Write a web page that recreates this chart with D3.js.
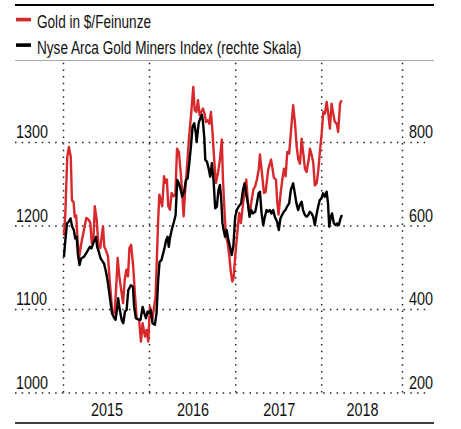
<!DOCTYPE html>
<html><head><meta charset="utf-8">
<script src="https://cdn.jsdelivr.net/npm/d3@7"></script>
<style>
body{margin:0;background:#fff}
svg text{font-family:"Liberation Sans",Arial,sans-serif;fill:#111}
</style>
</head><body><svg id="c" width="461" height="429"></svg>
<script>
const goldDates = ["2015-01-05","2015-01-11","2015-01-19","2015-01-26","2015-02-03","2015-02-08","2015-02-15","2015-02-20","2015-02-26","2015-03-03","2015-03-10","2015-03-20","2015-03-31","2015-04-10","2015-04-20","2015-04-27","2015-05-03","2015-05-10","2015-05-16","2015-05-24","2015-05-31","2015-06-08","2015-06-14","2015-06-20","2015-06-25","2015-07-04","2015-07-11","2015-07-18","2015-07-25","2015-07-29","2015-08-08","2015-08-15","2015-08-21","2015-08-28","2015-09-05","2015-09-13","2015-09-20","2015-09-27","2015-10-04","2015-10-10","2015-10-17","2015-10-26","2015-11-03","2015-11-10","2015-11-20","2015-11-28","2015-12-05","2015-12-15","2015-12-22","2015-12-29","2016-01-05","2016-01-15","2016-01-29","2016-02-09","2016-02-14","2016-02-21","2016-02-26","2016-03-05","2016-03-12","2016-03-17","2016-03-23","2016-03-30","2016-04-06","2016-04-15","2016-04-22","2016-04-29","2016-05-07","2016-05-16","2016-05-21","2016-05-27","2016-06-03","2016-06-12","2016-06-19","2016-06-27","2016-07-07","2016-07-13","2016-07-20","2016-07-27","2016-08-03","2016-08-10","2016-08-17","2016-08-24","2016-08-30","2016-09-06","2016-09-13","2016-09-20","2016-09-27","2016-10-03","2016-10-11","2016-10-20","2016-10-28","2016-11-05","2016-11-10","2016-11-17","2016-11-23","2016-11-30","2016-12-07","2016-12-14","2016-12-20","2016-12-25","2017-01-01","2017-01-10","2017-01-18","2017-01-25","2017-02-02","2017-02-10","2017-02-17","2017-02-24","2017-03-03","2017-03-10","2017-03-19","2017-03-27","2017-04-03","2017-04-11","2017-04-16","2017-04-23","2017-05-03","2017-05-10","2017-05-21","2017-06-02","2017-06-09","2017-06-14","2017-06-23","2017-06-28","2017-07-04","2017-07-13","2017-07-20","2017-07-27","2017-08-03","2017-08-10","2017-08-18","2017-08-26","2017-09-04","2017-09-12","2017-09-19","2017-09-26","2017-10-03","2017-10-10","2017-10-17","2017-10-24","2017-10-31","2017-11-09","2017-11-14","2017-11-21","2017-11-28","2017-12-05","2017-12-13","2017-12-20","2017-12-27","2018-01-03","2018-01-10","2018-01-17","2018-01-24","2018-01-31","2018-02-07","2018-02-14","2018-02-21","2018-02-28","2018-03-08","2018-03-14","2018-03-22","2018-03-29"];
const goldValues = [1188,1215,1282,1294,1282,1230,1228,1210,1212,1187,1161,1179,1195,1209,1207,1203,1179,1183,1223,1207,1177,1173,1187,1199,1175,1169,1163,1135,1111,1097,1095,1127,1161,1139,1123,1107,1135,1147,1139,1173,1177,1151,1115,1089,1087,1061,1083,1067,1075,1061,1103,1087,1115,1207,1237,1229,1223,1259,1251,1255,1223,1219,1239,1235,1237,1292,1288,1259,1239,1211,1243,1276,1306,1330,1366,1338,1336,1350,1332,1336,1340,1334,1324,1326,1322,1336,1310,1282,1251,1263,1279,1303,1255,1215,1187,1179,1163,1143,1133,1137,1163,1191,1215,1203,1223,1243,1255,1227,1211,1227,1243,1247,1255,1267,1285,1267,1239,1240,1267,1279,1267,1257,1255,1230,1213,1239,1255,1268,1259,1288,1286,1314,1344,1322,1294,1279,1274,1304,1286,1268,1264,1279,1292,1285,1276,1248,1251,1267,1290,1310,1336,1334,1348,1334,1316,1346,1334,1324,1322,1312,1346,1350];
const minersDates = ["2015-01-05","2015-01-11","2015-01-18","2015-01-25","2015-02-02","2015-02-09","2015-02-16","2015-02-22","2015-02-28","2015-03-05","2015-03-12","2015-03-19","2015-03-31","2015-04-09","2015-04-17","2015-04-25","2015-05-02","2015-05-09","2015-05-15","2015-05-21","2015-05-26","2015-06-02","2015-06-10","2015-06-16","2015-06-24","2015-07-01","2015-07-08","2015-07-15","2015-07-22","2015-07-28","2015-08-05","2015-08-12","2015-08-18","2015-08-23","2015-08-30","2015-09-07","2015-09-14","2015-09-21","2015-09-28","2015-10-05","2015-10-16","2015-10-25","2015-10-30","2015-11-06","2015-11-16","2015-11-26","2015-12-05","2015-12-12","2015-12-19","2015-12-26","2016-01-02","2016-01-09","2016-01-16","2016-01-26","2016-02-02","2016-02-09","2016-02-15","2016-02-23","2016-03-01","2016-03-08","2016-03-14","2016-03-20","2016-03-25","2016-03-31","2016-04-08","2016-04-16","2016-04-23","2016-04-30","2016-05-07","2016-05-15","2016-05-21","2016-05-29","2016-06-06","2016-06-13","2016-06-20","2016-06-27","2016-07-04","2016-07-11","2016-07-18","2016-07-21","2016-07-30","2016-08-06","2016-08-13","2016-08-17","2016-08-23","2016-08-27","2016-09-03","2016-09-10","2016-09-17","2016-09-24","2016-10-01","2016-10-08","2016-10-15","2016-10-22","2016-10-28","2016-11-02","2016-11-08","2016-11-13","2016-11-19","2016-11-26","2016-12-03","2016-12-10","2016-12-17","2016-12-24","2017-01-01","2017-01-08","2017-01-15","2017-01-26","2017-02-03","2017-02-10","2017-02-16","2017-02-24","2017-03-03","2017-03-10","2017-03-17","2017-03-27","2017-04-03","2017-04-10","2017-04-16","2017-04-23","2017-04-30","2017-05-07","2017-05-14","2017-05-21","2017-05-28","2017-06-04","2017-06-11","2017-06-18","2017-06-28","2017-07-05","2017-07-12","2017-07-19","2017-07-26","2017-08-02","2017-08-09","2017-08-18","2017-08-25","2017-09-04","2017-09-11","2017-09-18","2017-09-25","2017-10-02","2017-10-10","2017-10-16","2017-10-24","2017-10-31","2017-11-07","2017-11-14","2017-11-21","2017-11-28","2017-12-05","2017-12-12","2017-12-19","2017-12-26","2018-01-02","2018-01-09","2018-01-16","2018-01-24","2018-01-30","2018-02-04","2018-02-11","2018-02-16","2018-02-24","2018-03-03","2018-03-10","2018-03-17","2018-03-24","2018-03-30"];
const minersValues = [525,565,605,609,617,597,589,569,573,533,505,521,525,533,541,549,545,557,565,573,549,537,521,516,509,493,473,445,414,390,380,374,398,426,398,374,366,394,398,445,457,453,405,378,375,374,405,390,378,394,390,398,366,362,390,469,513,517,533,549,565,573,549,573,593,609,625,709,701,685,669,681,709,713,749,789,837,845,821,800,845,857,865,849,809,757,753,737,717,749,709,641,645,685,697,669,605,589,573,589,565,549,529,549,621,637,645,653,685,701,677,653,621,637,629,633,653,677,681,629,601,621,637,633,637,629,637,621,609,589,617,625,633,637,645,653,685,701,677,653,637,649,657,637,625,621,625,633,629,621,601,625,645,661,665,677,669,681,653,597,621,629,605,601,605,601,617,625];
const leftTicks = [1000, 1100, 1200, 1300];
const rightTicks = [200, 400, 600, 800];
const yearLabels = ["2015", "2016", "2017", "2018"];
const legendLabels = ["Gold in $/Feinunze", "Nyse Arca Gold Miners Index (rechte Skala)"];
const seriesColors = ["#d7282c", "#000000"];

const parse = d3.timeParse("%Y-%m-%d");
const svg = d3.select("#c");

const x = d3.scaleTime().domain([parse("2015-01-01"), parse("2018-12-10")]).range([63, 402]);
const yL = d3.scaleLinear().domain([1000, 1400]).range([392.5, 58.5]);
const yR = d3.scaleLinear().domain([200, 1000]).range([392.5, 58.5]);

// frame lines
svg.append("line").attr("x1", 15).attr("x2", 434).attr("y1", 5).attr("y2", 5).attr("stroke", "#000").attr("stroke-width", 2.2);
svg.append("line").attr("x1", 15).attr("x2", 434).attr("y1", 60.5).attr("y2", 60.5).attr("stroke", "#aaa").attr("stroke-width", 1);
svg.append("line").attr("x1", 15).attr("x2", 434).attr("y1", 423).attr("y2", 423).attr("stroke", "#000").attr("stroke-width", 1.5);

// legend (condensed by horizontal scaling)
legendLabels.forEach((t, i) => {
  const yy = 19.5 + i * 25.5;
  svg.append("rect").attr("x", 16).attr("y", yy - 1.7).attr("width", 15).attr("height", 3.6).attr("fill", seriesColors[i]);
  svg.append("text").attr("transform", `translate(37,${yy + 8.5}) scale(0.735,1)`).attr("font-size", 18.5).text(t);
});

// horizontal grid + left labels
const gL = svg.append("g").attr("transform", "translate(15,0)")
  .call(d3.axisRight(yL).tickValues(leftTicks).tickSize(415).tickFormat(d3.format("d")));
gL.select(".domain").remove();
gL.selectAll(".tick line").attr("stroke", "#222").attr("stroke-width", 1.5).attr("stroke-dasharray", "1.5,5.2");
gL.selectAll(".tick text").attr("x", 0).attr("dy", 0).attr("y", -4.5).attr("transform", "translate(1,0) scale(0.8,1)")
  .attr("text-anchor", "start").attr("font-size", 18).attr("fill", "#111").style("font-family", "'Liberation Sans',Arial,sans-serif");

// right labels
const gR = svg.append("g").attr("transform", "translate(433,0)")
  .call(d3.axisLeft(yR).tickValues(rightTicks).tickSize(0).tickFormat(d3.format("d")));
gR.select(".domain").remove();
gR.selectAll(".tick text").attr("x", 0).attr("dy", 0).attr("y", -4.5).attr("transform", "scale(0.8,1)")
  .attr("text-anchor", "end").attr("font-size", 18).attr("fill", "#111").style("font-family", "'Liberation Sans',Arial,sans-serif");

// vertical grid
const yearStarts = yearLabels.map(y => parse(y + "-01-01"));
const gridDates = yearStarts.concat([x.domain()[1]]);
const gX = svg.append("g").attr("transform", "translate(0,392.5)")
  .call(d3.axisBottom(x).tickValues(gridDates).tickSize(-330).tickFormat(""));
gX.select(".domain").remove();
gX.selectAll(".tick line").attr("stroke", "#222").attr("stroke-width", 1.5).attr("stroke-dasharray", "1.5,5.2");

// year labels centered between gridlines
yearLabels.forEach((t, i) => {
  const cx = (x(gridDates[i]) + x(gridDates[i + 1])) / 2;
  svg.append("text").attr("transform", `translate(${cx + 1},416) scale(0.8,1)`).attr("text-anchor", "middle").attr("font-size", 18).text(t);
});

// lines
const goldData = goldDates.map((d, i) => ({ d: parse(d), v: goldValues[i] }));
const minersData = minersDates.map((d, i) => ({ d: parse(d), v: minersValues[i] }));
svg.append("path").datum(goldData).attr("fill", "none").attr("stroke", seriesColors[0]).attr("stroke-width", 2.4).attr("stroke-linejoin", "round")
  .attr("d", d3.line().x(p => x(p.d)).y(p => yL(p.v)));
svg.append("path").datum(minersData).attr("fill", "none").attr("stroke", seriesColors[1]).attr("stroke-width", 2.4).attr("stroke-linejoin", "round")
  .attr("d", d3.line().x(p => x(p.d)).y(p => yR(p.v)));
</script>
</body></html>
